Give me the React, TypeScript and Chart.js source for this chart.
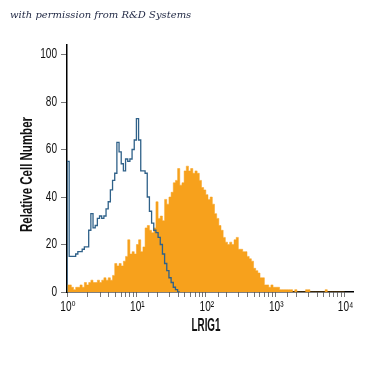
import React, { useEffect, useRef } from "react";
import { Chart, registerables } from "chart.js";

Chart.register(...registerables);

// Histogram channels: 32 bins per decade, starting at 10^0
const BINS_PER_DECADE = 32;

// LRIG1 stained cells (orange filled histogram), counts per bin
const LRIG1_COUNTS = [
  3, 3, 2, 1, 2, 2, 3, 2, 4, 3,
  4, 5, 4, 4, 5, 4, 5, 6, 5, 6,
  5, 7, 12, 11, 12, 11, 13, 15, 22, 16,
  17, 16, 20, 22, 17, 19, 27, 28, 26, 25,
  27, 38, 31, 32, 30, 39, 37, 40, 42, 46,
  47, 52, 45, 46, 51, 53, 51, 52, 50, 51,
  50, 47, 44, 43, 41, 39, 40, 37, 33, 31,
  28, 26, 23, 21, 20, 21, 20, 22, 23, 18,
  18, 17, 17, 15, 14, 13, 10, 9, 8, 6,
  6, 3, 3, 2, 3, 2, 2, 2, 1, 1,
  1, 1, 1, 1, 0, 1, 0, 0, 0, 0,
  1, 1, 0, 0, 0, 0, 0, 0, 0, 1,
  0, 0, 0, 0, 0, 0, 0, 0,
];

// Isotype control (blue outline histogram), counts per bin
const ISOTYPE_COUNTS = [
  55, 15, 15, 15, 16, 17, 17, 18, 19, 19,
  26, 33, 27, 28, 31, 32, 31, 32, 35, 38,
  43, 47, 50, 63, 59, 54, 51, 56, 55, 56,
  60, 64, 73, 64, 51, 51, 50, 40, 34, 29,
  26, 25, 23, 20, 16, 12, 9, 6, 4, 2,
  1, 0,
];

const X_TICK_VALUES = [1, 10, 100, 1000, 10000];
const X_TICK_LABELS = ["10\u2070", "10\u00B9", "10\u00B2", "10\u00B3", "10\u2074"];
const Y_TICK_VALUES = [0, 20, 40, 60, 80, 100];
const X_TITLE = "LRIG1";
const Y_TITLE = "Relative Cell Number";
const CREDIT = "with permission from R&D Systems";

const SANS = "'Liberation Sans', 'DejaVu Sans', Arial, sans-serif";

function toPoints(counts: number[]) {
  const pts = [{ x: 1, y: 0 }];
  counts.forEach((v, i) => pts.push({ x: Math.pow(10, i / BINS_PER_DECADE), y: v }));
  pts.push({ x: Math.pow(10, counts.length / BINS_PER_DECADE), y: 0 });
  return pts;
}

function drawCondensed(
  ctx: CanvasRenderingContext2D,
  text: string,
  x: number,
  y: number,
  font: string,
  align: CanvasTextAlign,
  sx: number | null,
  targetWidth: number | null,
  rotation: number
) {
  ctx.save();
  ctx.font = font;
  let scaleX = sx ?? 1;
  if (targetWidth) scaleX = targetWidth / ctx.measureText(text).width;
  ctx.translate(x, y);
  if (rotation) ctx.rotate(rotation);
  ctx.scale(scaleX, 1);
  ctx.textAlign = align;
  ctx.textBaseline = "middle";
  ctx.fillText(text, 0, 0);
  ctx.restore();
}

const condensedText = {
  id: "condensedText",
  afterDraw(chart: any) {
    const { ctx, chartArea, scales } = chart;
    const xs = scales.x;
    const ys = scales.y;
    ctx.save();
    ctx.fillStyle = "#111";
    Y_TICK_VALUES.forEach((v) => {
      drawCondensed(ctx, String(v), chartArea.left - 10, ys.getPixelForValue(v), `14px ${SANS}`, "right", 0.72, null, 0);
    });
    X_TICK_VALUES.forEach((v, i) => {
      drawCondensed(ctx, X_TICK_LABELS[i], xs.getPixelForValue(v) + 1, chartArea.bottom + 15, `14px ${SANS}`, "center", 0.72, null, 0);
    });
    drawCondensed(ctx, Y_TITLE, 27, (chartArea.top + chartArea.bottom) / 2 + 6, `bold 17px ${SANS}`, "center", null, 115, -Math.PI / 2);
    drawCondensed(ctx, X_TITLE, (chartArea.left + chartArea.right) / 2 - 4, chartArea.bottom + 34, `bold 18px ${SANS}`, "center", null, 29, 0);
    ctx.restore();
  },
};

export default function App() {
  const ref = useRef<HTMLCanvasElement | null>(null);

  useEffect(() => {
    if (!ref.current) return;
    const chart = new Chart(ref.current, {
      type: "line",
      data: {
        datasets: [
          {
            label: "Isotype",
            data: toPoints(ISOTYPE_COUNTS),
            stepped: "before",
            borderColor: "#2f6189",
            borderWidth: 1.3,
            fill: false,
            pointRadius: 0,
            order: 0,
          },
          {
            label: "LRIG1",
            data: toPoints(LRIG1_COUNTS),
            stepped: "before",
            borderColor: "#f7a11c",
            backgroundColor: "#f7a11c",
            borderWidth: 0.5,
            fill: "origin",
            pointRadius: 0,
            order: 1,
          },
        ],
      },
      options: {
        animation: false,
        responsive: false,
        events: [],
        layout: { padding: { left: 19, right: 22, top: 45, bottom: 40 } },
        plugins: { legend: { display: false }, tooltip: { enabled: false } },
        scales: {
          x: {
            type: "logarithmic",
            min: 1,
            max: 13200,
            afterBuildTicks: (scale: any) => {
              scale.ticks = scale.ticks.filter((t: any) => t.value <= 10000.0001);
            },
            afterFit: (scale: any) => {
              scale.height = 43;
            },
            border: { display: true, color: "#000", width: 1.5 },
            grid: { drawOnChartArea: false, drawTicks: true, tickLength: 5, color: "#777" },
            ticks: { display: false, autoSkip: false, maxRotation: 0 },
            title: { display: false },
          },
          y: {
            min: 0,
            max: 104,
            afterBuildTicks: (scale: any) => {
              scale.ticks = Y_TICK_VALUES.map((v) => ({ value: v }));
            },
            afterFit: (scale: any) => {
              scale.width = 48;
            },
            border: { display: true, color: "#000", width: 1.5 },
            grid: { drawOnChartArea: false, drawTicks: true, tickLength: 6, color: "#777" },
            ticks: { display: false },
            title: { display: false },
          },
        },
      },
      plugins: [condensedText],
    } as any);
    return () => chart.destroy();
  }, []);

  return (
    <div style={{ position: "absolute", left: 0, top: 0, width: 375, height: 375, background: "#fff" }}>
      <div
        style={{
          position: "absolute",
          left: 10,
          top: 9,
          fontFamily: "'DejaVu Serif', 'Liberation Serif', serif",
          fontStyle: "italic",
          fontSize: 10,
          lineHeight: "12px",
          color: "#1c2440",
          whiteSpace: "nowrap",
        }}
      >
        {CREDIT}
      </div>
      <canvas ref={ref} width={375} height={375} style={{ display: "block" }} />
    </div>
  );
}
